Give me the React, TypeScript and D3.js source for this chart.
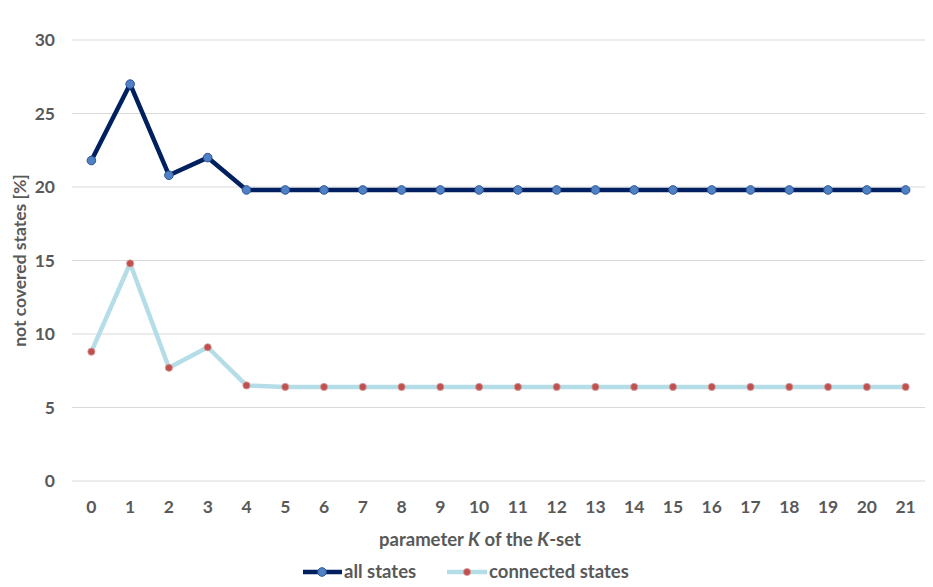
import React from "react";
import * as d3 from "d3";

const categories = ["0","1","2","3","4","5","6","7","8","9","10","11","12","13","14","15","16","17","18","19","20","21"];
const allStates = [21.8, 27.0, 20.8, 22.0, 19.8, 19.8, 19.8, 19.8, 19.8, 19.8, 19.8, 19.8, 19.8, 19.8, 19.8, 19.8, 19.8, 19.8, 19.8, 19.8, 19.8, 19.8];
const connectedStates = [8.8, 14.8, 7.7, 9.1, 6.5, 6.4, 6.4, 6.4, 6.4, 6.4, 6.4, 6.4, 6.4, 6.4, 6.4, 6.4, 6.4, 6.4, 6.4, 6.4, 6.4, 6.4];
const yTicks = [0, 5, 10, 15, 20, 25, 30];

const W = 933, H = 587;
const font = "Lato, Open Sans, sans-serif";
const textCol = "#595959";

export default function App() {
  const x = d3.scaleBand<string>().domain(categories).range([72, 925]);
  const y = d3.scaleLinear().domain([0, 30]).range([481, 40]);
  const cx = (c: string) => (x(c) as number) + x.bandwidth() / 2;
  const line = d3.line<number>().x((_, i) => cx(categories[i])).y((d) => y(d));

  return (
    <svg width={W} height={H} style={{ position: "absolute", left: 0, top: 0, background: "#fff" }}>
      {yTicks.map((t) => (
        <g key={t}>
          <line x1={72} x2={925} y1={y(t)} y2={y(t)} stroke="#d9d9d9" strokeWidth={1} />
          <text x={55} y={y(t)} dy="0.35em" textAnchor="end" fontFamily={font} fontWeight="bold" fontSize={17.5} fill={textCol}>{t}</text>
        </g>
      ))}
      {categories.map((c) => (
        <text key={c} x={cx(c)} y={507} dy="0.35em" textAnchor="middle" fontFamily={font} fontWeight="bold" fontSize={17.5} fill={textCol}>{c}</text>
      ))}
      <text transform={`translate(20,${y(15)}) rotate(-90)`} textAnchor="middle" dy="0.35em" fontFamily={font} fontWeight="bold" fontSize={17.5} fill={textCol}>not covered states [%]</text>
      <text x={480} y={540} textAnchor="middle" dy="0.35em" fontFamily={font} fontWeight="bold" fontSize={18.5} fill={textCol}>
        parameter <tspan fontStyle="italic">K</tspan> of the <tspan fontStyle="italic">K</tspan>-set
      </text>

      <path d={line(connectedStates) || ""} fill="none" stroke="#b4dde8" strokeWidth={4.5} strokeLinejoin="round" />
      {connectedStates.map((v, i) => (
        <circle key={i} cx={cx(categories[i])} cy={y(v)} r={3.6} fill="#c0504d" stroke="#d8a0a0" strokeWidth={0.8} />
      ))}
      <path d={line(allStates) || ""} fill="none" stroke="#002060" strokeWidth={4.5} strokeLinejoin="round" />
      {allStates.map((v, i) => (
        <circle key={i} cx={cx(categories[i])} cy={y(v)} r={4.3} fill="#4f81c4" stroke="#2c5596" strokeWidth={1} />
      ))}

      <line x1={303} x2={342} y1={572} y2={572} stroke="#002060" strokeWidth={4.5} />
      <circle cx={322} cy={572} r={4.3} fill="#4f81c4" stroke="#2c5596" strokeWidth={1} />
      <text x={344} y={572} dy="0.35em" fontFamily={font} fontWeight="bold" fontSize={18.5} fill={textCol}>all states</text>
      <line x1={447} x2={487} y1={572} y2={572} stroke="#b4dde8" strokeWidth={4.5} />
      <circle cx={467} cy={572} r={3.6} fill="#c0504d" stroke="#d8a0a0" strokeWidth={0.8} />
      <text x={489} y={572} dy="0.35em" fontFamily={font} fontWeight="bold" fontSize={18.5} fill={textCol}>connected states</text>
    </svg>
  );
}
